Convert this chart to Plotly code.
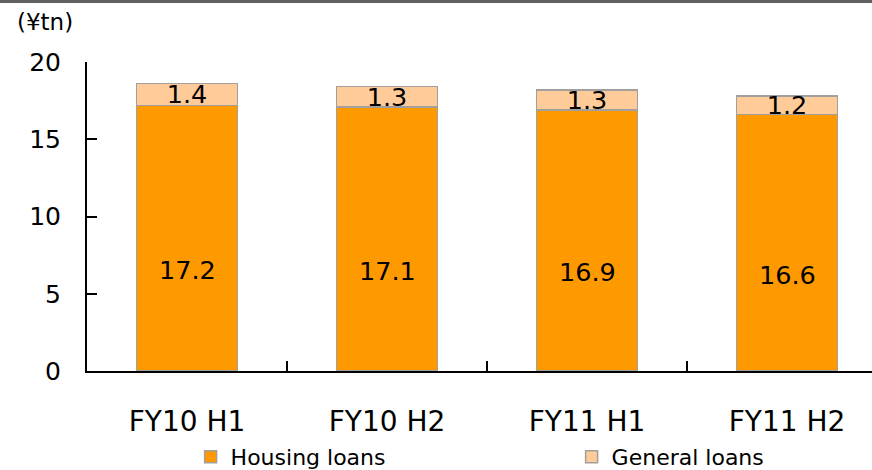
import plotly.graph_objects as go

categories = ["FY10 H1", "FY10 H2", "FY11 H1", "FY11 H2"]
housing_loans = [17.2, 17.1, 16.9, 16.6]
general_loans = [1.4, 1.3, 1.3, 1.2]
y_ticks = [0, 5, 10, 15, 20]

FONT = "DejaVu Sans"
BORDER = "#a0a0a0"

fig = go.Figure()
fig.add_trace(go.Bar(
    name="Housing loans", x=categories, y=housing_loans,
    marker=dict(color="#FF9900", line=dict(color=BORDER, width=1.5)),
    width=0.505,
))
fig.add_trace(go.Bar(
    name="General loans", x=categories, y=general_loans,
    marker=dict(color="#FFCC99", line=dict(color=BORDER, width=1.5)),
    texttemplate="%{y:.1f}", textposition="inside", insidetextanchor="middle",
    constraintext="none", textangle=0,
    textfont=dict(family=FONT, size=25.5, color="black"),
    width=0.505,
))

# housing loan labels (sit somewhat below the segment centre in the original)
housing_labels = [
    dict(text=f"{v:.1f}", x=c, y=v / 2, xref="x", yref="y", yshift=-32,
         showarrow=False, font=dict(family=FONT, size=25.5, color="black"))
    for c, v in zip(categories, housing_loans)
]

fig.update_layout(
    barmode="stack",
    width=872, height=470,
    margin=dict(l=87, r=0, t=62, b=99, autoexpand=False),
    plot_bgcolor="white", paper_bgcolor="white",
    font=dict(family=FONT, size=27, color="black"),
    showlegend=True,
    legend=dict(
        orientation="h", xref="container", yref="container",
        x=0.2186, xanchor="left", y=0.028, yanchor="middle",
        font=dict(family=FONT, size=22, color="black"),
        entrywidth=336, traceorder="normal",
        bgcolor="rgba(0,0,0,0)",
    ),
    xaxis=dict(
        type="category", range=[-0.5, 3.425], automargin=False,
        showline=True, linecolor="black", linewidth=2,
        ticks="inside", ticklen=10, tickwidth=2, tickcolor="black",
        tickson="boundaries", showgrid=False,
        ticklabelstandoff=24,
        tickfont=dict(family=FONT, size=28),
    ),
    yaxis=dict(
        range=[0, 20], tickvals=y_ticks, automargin=False,
        showline=True, linecolor="black", linewidth=2,
        ticks="inside", ticklen=10, tickwidth=2, tickcolor="black",
        showgrid=False, zeroline=False,
        ticklabelstandoff=19,
        tickfont=dict(family=FONT, size=25),
    ),
    annotations=housing_labels + [dict(
        text="(¥tn)", xref="paper", yref="paper",
        x=-0.0917, y=1.129, xanchor="left", yanchor="middle",
        showarrow=False, font=dict(family=FONT, size=23, color="black"),
    )],
    shapes=[dict(
        type="line", xref="paper", yref="paper",
        x0=-0.2, x1=1.0, y0=1.1958, y1=1.1958,
        line=dict(color="#606060", width=3),
    )],
)

fig.write_html(
    "out.html",
    config={"displayModeBar": False},
    post_script="document.body.style.margin='0';document.body.style.overflow='hidden';",
)
